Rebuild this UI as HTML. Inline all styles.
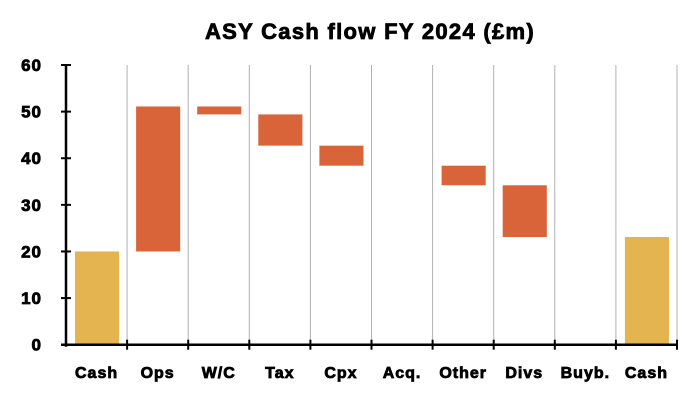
<!DOCTYPE html>
<html><head><meta charset="utf-8"><style>
body{margin:0;background:#fff;}
svg text{font-family:"Liberation Sans",Arial,sans-serif;font-weight:bold;fill:#000;stroke:#000;stroke-width:0.8px;}
</style></head><body>
<svg width="700" height="400" xmlns="http://www.w3.org/2000/svg">
<text x="370" y="39" text-anchor="middle" font-size="22" letter-spacing="1.3">ASY Cash flow FY 2024 (£m)</text>
<g id="grid"></g><g id="bars"></g><g id="axes"></g>
</svg>
<script>
const categories=["Cash","Ops","W/C","Tax","Cpx","Acq.","Other","Divs","Buyb.","Cash"];
const barStart=[0,20,51.1,49.4,42.7,38.4,38.4,34.2,23.1,0];
const barEnd=[20,51.1,49.4,42.7,38.4,38.4,34.2,23.1,23.1,23.1];
const barType=["total","flow","flow","flow","flow","flow","flow","flow","flow","total"];
const yTicks=[0,10,20,30,40,50,60];
const NS="http://www.w3.org/2000/svg";
const x0=66,catW=61.1,yBase=344.7,yTop=65,yMax=60;
const y=v=>yBase-(v/yMax)*(yBase-yTop);
const xc=i=>x0+i*catW;
function mk(t,a,p){const e=document.createElementNS(NS,t);for(const k in a)e.setAttribute(k,a[k]);p.appendChild(e);return e;}
const grid=document.getElementById('grid'),bars=document.getElementById('bars'),axes=document.getElementById('axes');
for(let i=1;i<=categories.length;i++){
 const g=mk('line',{x1:xc(i),x2:xc(i),y1:yTop,y2:yBase,stroke:'#b0b0b0','stroke-width':1},grid);
 
 
}
categories.forEach((c,i)=>{
 const a=barStart[i],b=barEnd[i];
 if(Math.abs(a-b)>0.001){
  const r=mk('rect',{x:xc(i)+9,width:catW-17,y:y(Math.max(a,b)),height:Math.abs(y(a)-y(b)),fill:barType[i]==='total'?'#e3b44f':'#d9643a'},bars);
  
  
 }
 const t=mk('text',{x:xc(i)+catW/2,y:378,'text-anchor':'middle','font-size':16,'letter-spacing':1},axes);
 t.textContent=c;
 
 
});
const ya=mk('line',{x1:x0,x2:x0,y1:yTop,y2:yBase+2,stroke:'#000','stroke-width':2.5},axes);


const xa=mk('line',{x1:x0-5,x2:xc(categories.length),y1:yBase,y2:yBase,stroke:'#000','stroke-width':2.5},axes);


for(let i=1;i<=categories.length;i++){
 const tk=mk('line',{x1:xc(i),x2:xc(i),y1:yBase-5,y2:yBase+5,stroke:'#000','stroke-width':2},axes);
 
 
}
yTicks.forEach(v=>{
 const tk=mk('line',{x1:x0-5,x2:x0+5,y1:y(v),y2:y(v),stroke:'#000','stroke-width':2},axes);
 
 
 const t=mk('text',{x:42,y:y(v)+6,'text-anchor':'end','font-size':17,'letter-spacing':1},axes);
 t.textContent=v;
 
 
});
</script>
</body></html>
